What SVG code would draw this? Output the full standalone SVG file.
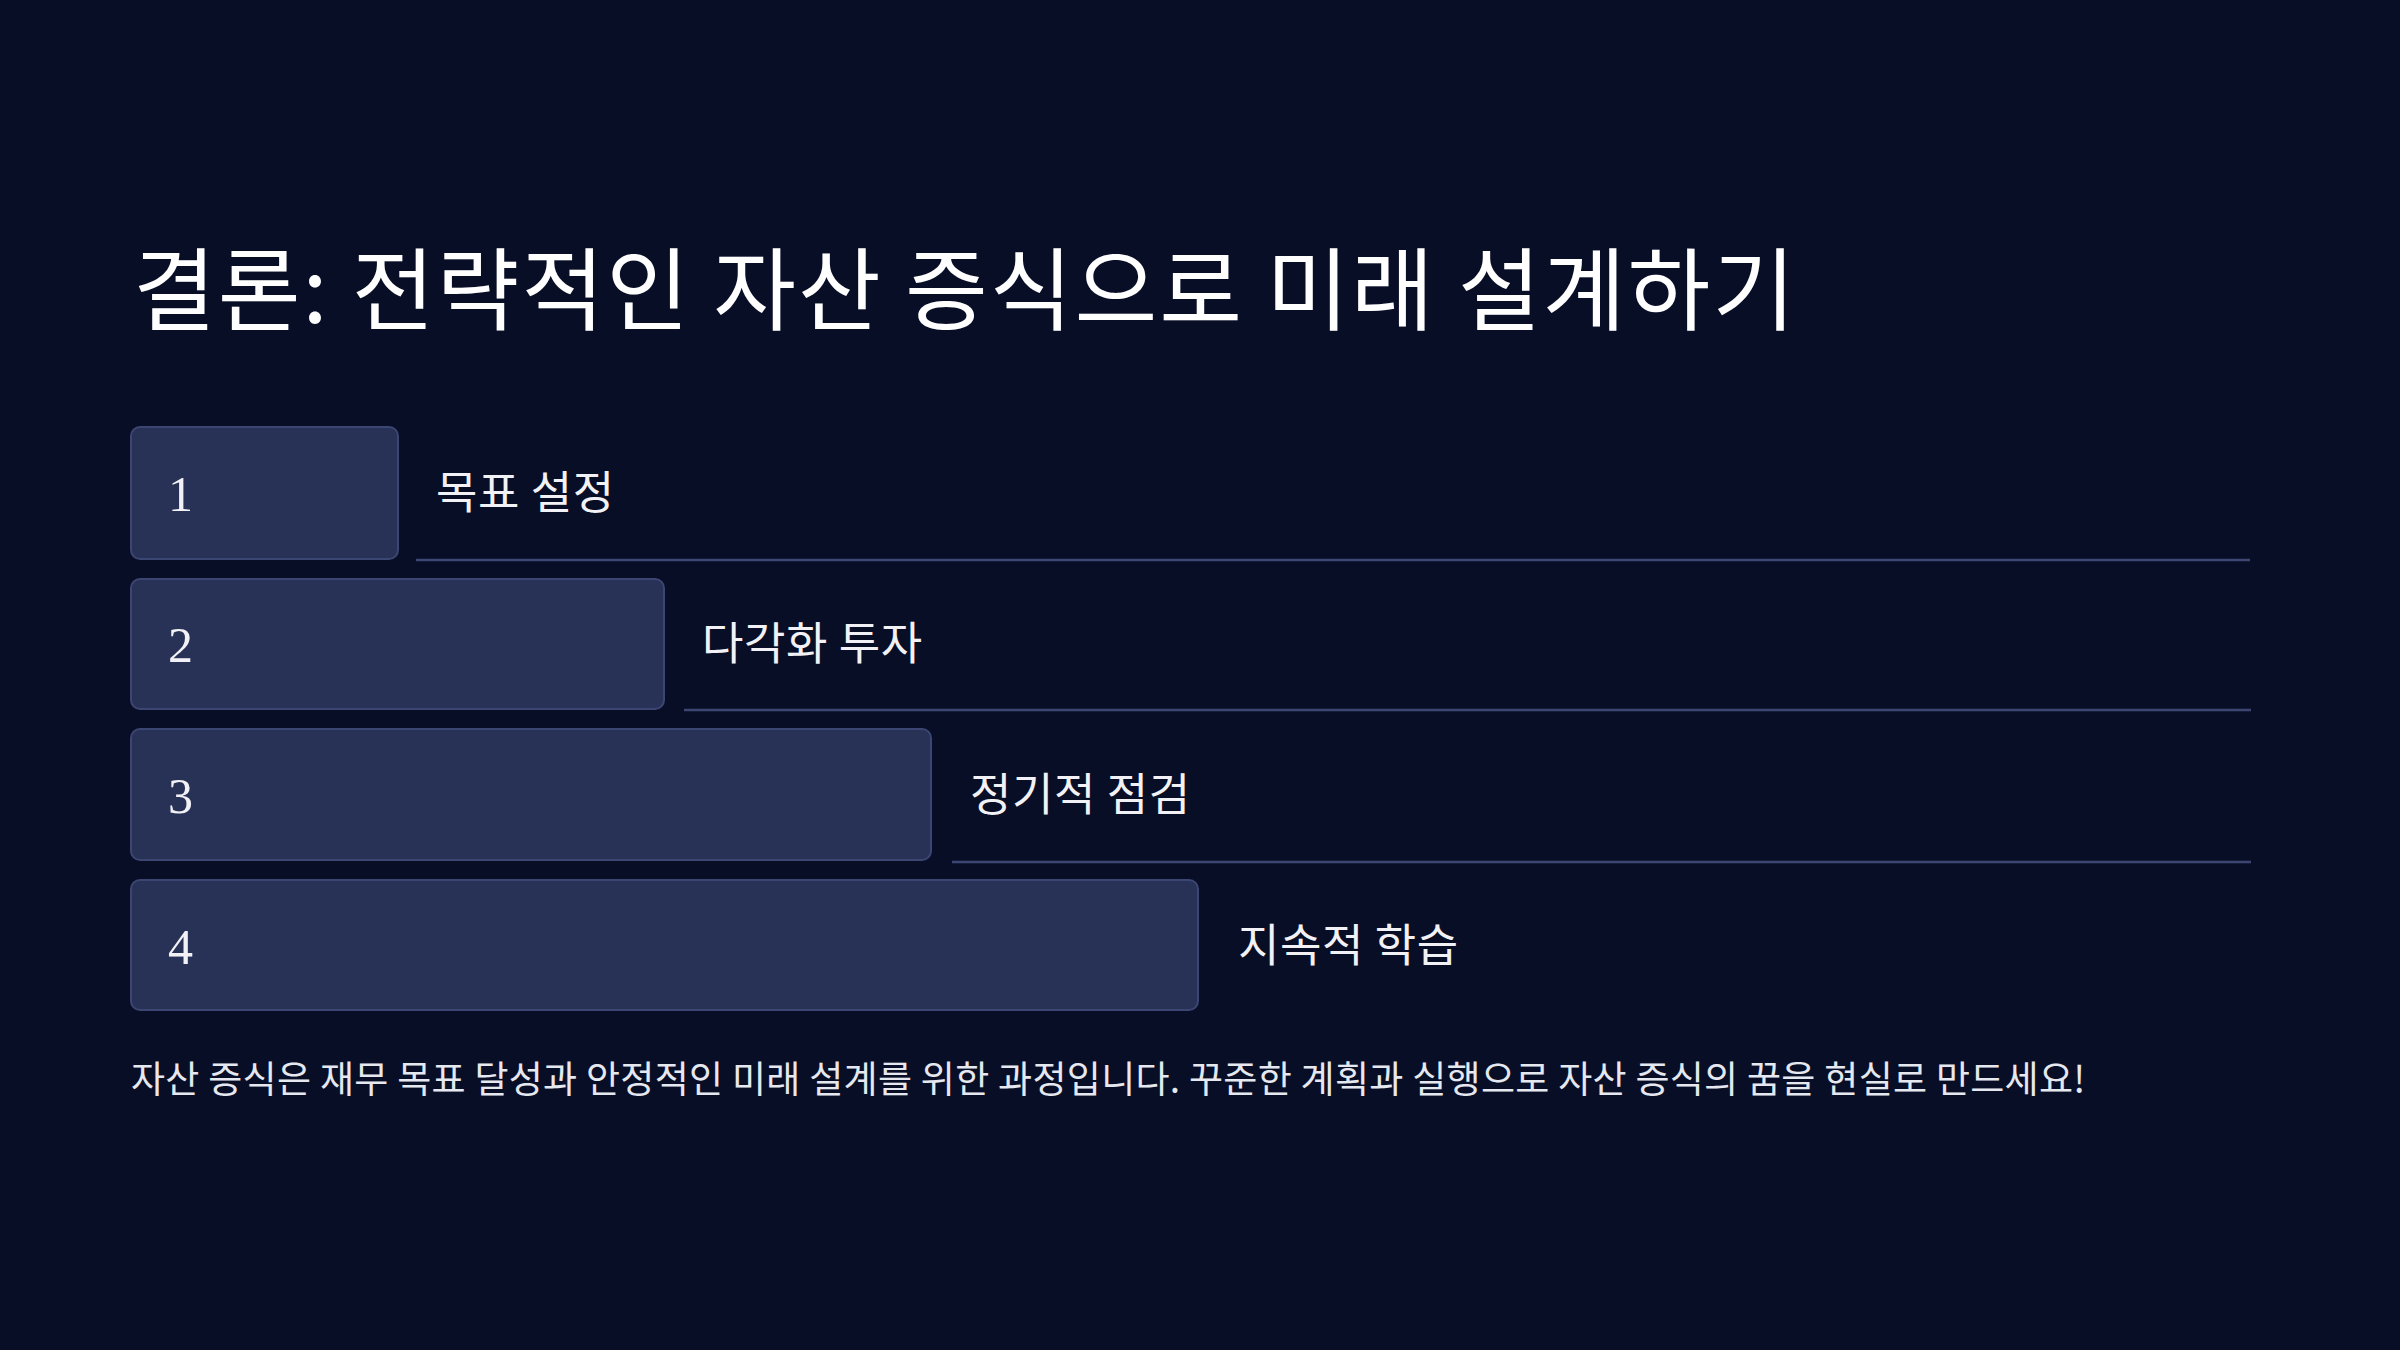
<svg xmlns="http://www.w3.org/2000/svg" width="2400" height="1350" viewBox="0 0 2400 1350">
<style>
.bg{fill:#090e27}
.box{fill:#283256;stroke:#3c4672;stroke-width:2}
.line{stroke:#3c4672;stroke-width:2.5}
.num{font-family:"Liberation Serif","DejaVu Serif",serif;font-size:50px;fill:#f2f2f6}
.lbl{font-family:"Noto Sans CJK KR","Noto Sans",sans-serif;font-size:45px;letter-spacing:0.6px;fill:#f2f2f6}
.title{font-family:"Noto Sans CJK KR","Noto Sans",sans-serif;font-size:90px;letter-spacing:2px;fill:#ffffff}
.foot{font-family:"Noto Sans CJK KR","Noto Sans",sans-serif;font-size:37px;letter-spacing:0.3px;fill:#e6e8f0}
</style>
<rect class="bg" x="0" y="0" width="2400" height="1350"/>
<text id="title" class="title" x="133" y="323">결론: 전략적인 자산 증식으로 미래 설계하기</text>
<g id="connectors">
<line class="line" x1="416" y1="560" x2="2250" y2="560"/>
<line class="line" x1="684" y1="710" x2="2251" y2="710"/>
<line class="line" x1="952" y1="862" x2="2251" y2="862"/>
</g>
<g id="step1">
<rect class="box" x="131" y="427" width="267" height="132" rx="9"/>
<text class="num" x="168" y="511">1</text>
<text class="lbl" x="436" y="509">목표 설정</text>
</g>
<g id="step2">
<rect class="box" x="131" y="579" width="533" height="130" rx="9"/>
<text class="num" x="168" y="662">2</text>
<text class="lbl" x="702" y="660">다각화 투자</text>
</g>
<g id="step3">
<rect class="box" x="131" y="729" width="800" height="131" rx="9"/>
<text class="num" x="168" y="813">3</text>
<text class="lbl" x="970" y="811">정기적 점검</text>
</g>
<g id="step4">
<rect class="box" x="131" y="880" width="1067" height="130" rx="9"/>
<text class="num" x="168" y="964">4</text>
<text class="lbl" x="1238" y="962">지속적 학습</text>
</g>
<text id="footer" class="foot" x="131" y="1093">자산 증식은 재무 목표 달성과 안정적인 미래 설계를 위한 과정입니다. 꾸준한 계획과 실행으로 자산 증식의 꿈을 현실로 만드세요!</text>
</svg>
